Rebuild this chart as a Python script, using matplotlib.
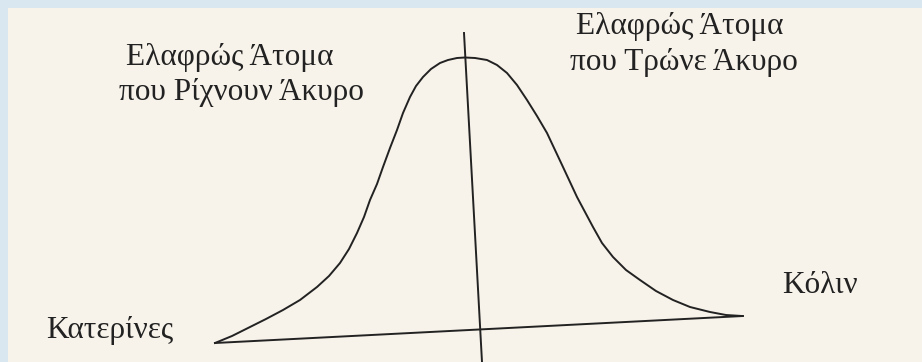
import matplotlib.pyplot as plt

# points (pixel units, y grows downward)
curve_x = [215, 232, 250, 266, 283, 300, 317, 329, 340, 349, 357, 364, 370, 377, 383,
           390, 397, 403, 410, 416, 423, 431, 440, 448, 457, 465, 475, 487, 497, 507,
           517, 527, 537, 547, 555, 563, 570, 577, 585, 593, 602, 613, 626, 640, 656,
           673, 690, 710, 726, 742]
curve_y = [343, 336, 327, 319, 310, 300, 287, 276, 263, 249, 233, 217, 200, 184, 167,
           148, 130, 113, 97, 86, 77, 69, 63, 60, 58, 57.5, 58, 60, 65, 73,
           85, 100, 116, 133, 150, 167, 182, 197, 212, 227, 243, 257, 270, 280, 291,
           300, 307, 312, 315, 316]

base_x = [215, 743]
base_y = [343, 316]
axis_x = [464, 482]
axis_y = [33, 362]

labels = ['Ελαφρώς Άτομα', 'που Ρίχνουν Άκυρο',
          'Ελαφρώς Άτομα', 'που Τρώνε Άκυρο',
          'Κατερίνες', 'Κόλιν']
label_x = [230, 241, 680, 684, 110, 820]
label_y = [65, 100, 34, 70, 338, 293]

ink = '#222222'
paper = '#f7f2ea'
frame = '#d9e8f0'

fig = plt.figure(figsize=(9.22, 3.62), dpi=100, facecolor=frame)
ax = fig.add_axes([8/922, 0, 914/922, 354/362], facecolor=paper)
ax.set_xlim(8, 922)
ax.set_ylim(362, 8)
ax.set_xticks([])
ax.set_yticks([])
for s in ax.spines.values():
    s.set_visible(False)

ax.plot(curve_x, curve_y, color=ink, lw=1.4, solid_joinstyle='round')
ax.plot(base_x, base_y, color=ink, lw=1.4)
ax.plot(axis_x, axis_y, color=ink, lw=1.4)

for t, x, y in zip(labels, label_x, label_y):
    ax.text(x, y, t, ha='center', va='baseline', fontsize=22.5,
            family=['Liberation Serif', 'DejaVu Serif'], color=ink)

fig.savefig('out.png', dpi=100, facecolor=frame)
